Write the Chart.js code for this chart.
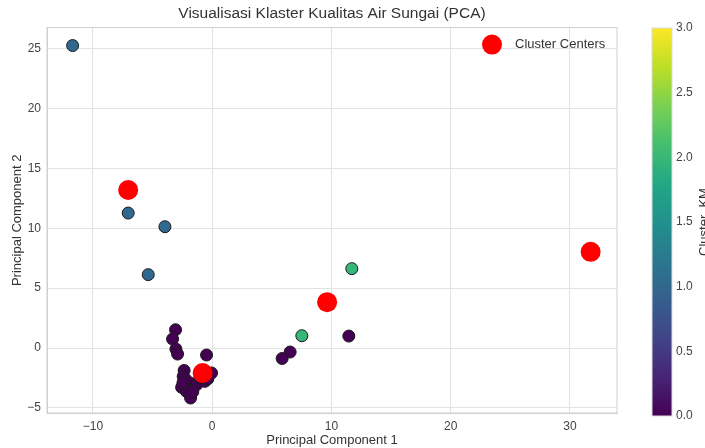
<!DOCTYPE html>
<html>
<head>
<meta charset="utf-8">
<script src="https://cdn.jsdelivr.net/npm/chart.js@4/dist/chart.umd.min.js"></script>
<style>
  html, body { margin: 0; padding: 0; background: #fff; overflow: hidden; }
  #wrap { position: relative; width: 705px; height: 448px; }
  #grafico { position: absolute; left: 0; top: 0; }
  #barra { position: absolute; left: 600px; top: 0; }
</style>
</head>
<body>
<div id="wrap">
  <canvas id="grafico" width="705" height="448"></canvas>
  <canvas id="barra" width="120" height="448"></canvas>
</div>
<script>
// datos (PCA + cluster)
const pc1 = [-11.7, -7.04, -3.96, -5.36,
  11.71, 7.52,
  11.46, 6.54, 5.87, -3.07, -3.32, -3.04, -2.9, -0.47,
  -2.35, -2.43, -2.56, -2.15, -1.81, -1.87, -1.31, -0.61, -0.05, -1.03, -2.2, -1.62, -0.36, -2.45,
  31.74];
const pc2 = [25.25, 11.27, 10.13, 6.13,
  6.63, 1.03,
  1.0, -0.33, -0.87, 1.53, 0.75, -0.08, -0.5, -0.58,
  -1.87, -2.37, -3.28, -3.62, -4.17, -2.92, -3.06, -2.78, -2.08, -2.48, -2.64, -3.64, -2.56, -2.9,
  8.03];
const clusterKM = [1, 1, 1, 1,
  2, 2,
  0, 0, 0, 0, 0, 0, 0, 0,
  0, 0, 0, 0, 0, 0, 0, 0, 0, 0, 0, 0, 0, 0,
  3];

const centrosX = [-0.8, -7.04, 9.64, 31.74];
const centrosY = [-2.08, 13.19, 3.83, 8.03];

const ticksX = [-10, 0, 10, 20, 30];
const ticksY = [-5, 0, 5, 10, 15, 20, 25];
const ticksBarra = [0, 0.5, 1, 1.5, 2, 2.5, 3];

const viridis = ['#440154', '#482475', '#414487', '#355f8d', '#2a788e', '#21918c',
  '#22a884', '#44bf70', '#7ad151', '#bddf26', '#fde725'];
const coloresCluster = ['#440154', '#31688e', '#35b779', '#fde725'];

const fuente = "'Liberation Sans', Arial, sans-serif";
const menos = v => String(v).replace('-', '\u2212');

const puntos = pc1.map((x, i) => ({ x: x, y: pc2[i] }));
const centros = centrosX.map((x, i) => ({ x: x, y: centrosY[i] }));

new Chart(document.getElementById('grafico'), {
  type: 'scatter',
  data: {
    datasets: [
      {
        label: 'Cluster Centers',
        data: centros,
        order: 0,
        pointRadius: 10,
        pointHoverRadius: 10,
        backgroundColor: '#ff0000',
        borderColor: '#ff0000',
        borderWidth: 0
      },
      {
        label: 'datos',
        data: puntos,
        order: 1,
        pointRadius: 6,
        pointHoverRadius: 6,
        backgroundColor: clusterKM.map(c => coloresCluster[c]),
        borderColor: '#1a1a1a',
        borderWidth: 1
      }
    ]
  },
  options: {
    responsive: false,
    animation: false,
    layout: { padding: { left: 0, right: 88, top: 0, bottom: 0 } },
    plugins: {
      title: {
        display: true,
        fullSize: false,
        text: 'Visualisasi Klaster Kualitas Air Sungai (PCA)',
        color: '#333',
        font: { family: fuente, size: 15.5, weight: 'normal' },
        padding: { top: 4, bottom: 5 }
      },
      legend: { display: false },
      tooltip: { enabled: false }
    },
    scales: {
      x: {
        type: 'linear',
        min: -13.85,
        max: 33.95,
        afterFit: s => { s.height = 35; },
        afterBuildTicks: s => { s.ticks = ticksX.map(v => ({ value: v })); },
        grid: { color: '#e2e2e2', drawTicks: false },
        border: { color: '#d0d0d0' },
        ticks: {
          color: '#444',
          padding: 6,
          font: { family: fuente, size: 12 },
          callback: v => menos(v)
        },
        title: {
          display: true,
          text: 'Principal Component 1',
          color: '#333',
          padding: { top: 0, bottom: 0 },
          font: { family: fuente, size: 13 }
        }
      },
      y: {
        type: 'linear',
        min: -5.42,
        max: 26.75,
        afterFit: s => { s.width = 47; },
        afterBuildTicks: s => { s.ticks = ticksY.map(v => ({ value: v })); },
        grid: { color: '#e2e2e2', drawTicks: false },
        border: { color: '#d0d0d0' },
        ticks: {
          color: '#444',
          padding: 6,
          font: { family: fuente, size: 12 },
          callback: v => menos(v)
        },
        title: {
          display: true,
          text: 'Principal Component 2',
          color: '#333',
          padding: { top: 10, bottom: 0 },
          font: { family: fuente, size: 13 }
        }
      }
    }
  },
  plugins: [{
    id: 'marcoLeyenda',
    afterDraw(chart) {
      const a = chart.chartArea, ctx = chart.ctx;
      const ds = chart.data.datasets[0];
      ctx.save();
      ctx.strokeStyle = '#d0d0d0';
      ctx.lineWidth = 1;
      ctx.strokeRect(a.left, a.top, a.right - a.left, a.bottom - a.top);
      // leyenda en la esquina superior derecha
      const lx = a.right - 125, ly = a.top + 17;
      ctx.fillStyle = ds.backgroundColor;
      ctx.beginPath();
      ctx.arc(lx, ly, ds.pointRadius, 0, Math.PI * 2);
      ctx.fill();
      ctx.fillStyle = '#333';
      ctx.font = '13px ' + fuente;
      ctx.textAlign = 'left';
      ctx.textBaseline = 'middle';
      ctx.fillText(ds.label, lx + 23, ly);
      ctx.restore();
    }
  }]
});

// barra de color (Cluster_KM)
new Chart(document.getElementById('barra'), {
  type: 'bar',
  data: {
    labels: ['Cluster_KM'],
    datasets: [{
      data: [[0, 3]],
      barPercentage: 1,
      categoryPercentage: 1,
      borderWidth: 0,
      backgroundColor: ctx => {
        const a = ctx.chart.chartArea;
        if (!a) return viridis[0];
        const g = ctx.chart.ctx.createLinearGradient(0, a.bottom, 0, a.top);
        viridis.forEach((c, i) => g.addColorStop(i / (viridis.length - 1), c));
        return g;
      }
    }]
  },
  options: {
    responsive: false,
    animation: false,
    layout: { padding: { left: 52, right: 0, top: 28, bottom: 32 } },
    plugins: { legend: { display: false }, tooltip: { enabled: false } },
    scales: {
      x: { display: false },
      y: {
        position: 'right',
        min: 0,
        max: 3,
        afterFit: s => { s.width = 48; },
        afterBuildTicks: s => { s.ticks = ticksBarra.map(v => ({ value: v })); },
        grid: { display: false, drawTicks: false },
        border: { display: false },
        ticks: {
          color: '#444',
          padding: 4,
          font: { family: fuente, size: 12 },
          callback: v => Number(v).toFixed(1)
        }
      }
    }
  },
  plugins: [{
    id: 'etiqueta',
    afterDraw(chart) {
      const a = chart.chartArea, ctx = chart.ctx;
      ctx.save();
      ctx.strokeStyle = '#dcdcdc';
      ctx.strokeRect(a.left, a.top, a.right - a.left, a.bottom - a.top);
      ctx.translate(a.right + 26, (a.top + a.bottom) / 2);
      ctx.rotate(-Math.PI / 2);
      ctx.fillStyle = '#333';
      ctx.font = '13px ' + fuente;
      ctx.textAlign = 'center';
      ctx.textBaseline = 'top';
      ctx.fillText('Cluster_KM', 0, 0);
      ctx.restore();
    }
  }]
});
</script>
</body>
</html>
